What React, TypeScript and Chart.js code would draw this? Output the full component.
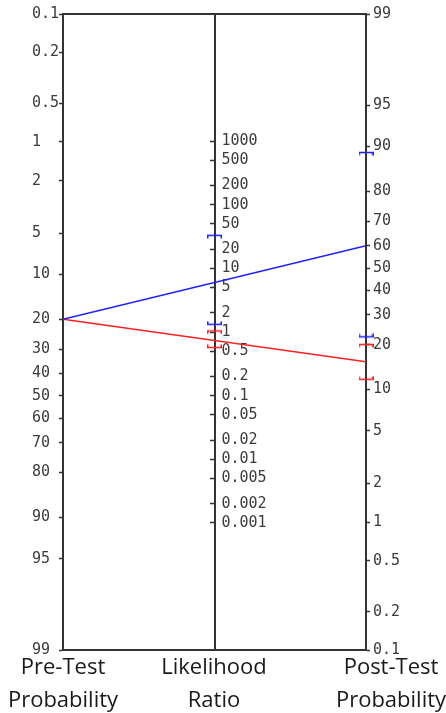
import { useEffect, useRef } from 'react';
import { Chart, registerables, Scale } from 'chart.js';

// ---------- data ----------
const PROB_MIN = 0.1; // % at the ends of the probability axes
const PROB_MAX = 99;

const preTestTicks = [0.1, 0.2, 0.5, 1, 2, 5, 10, 20, 30, 40, 50, 60, 70, 80, 90, 95, 99];
const postTestTicks = [0.1, 0.2, 0.5, 1, 2, 5, 10, 20, 30, 40, 50, 60, 70, 80, 90, 95, 99];
const likelihoodRatioTicks = [1000, 500, 200, 100, 50, 20, 10, 5, 2, 1, 0.5, 0.2, 0.1, 0.05, 0.02, 0.01, 0.005, 0.002, 0.001];

const seriesNames = ['Positive test', 'Negative test'];
const preTestProbability = [20, 20];
const likelihoodRatio = [6, 0.74];
const likelihoodRatioLower = [1.32, 0.57];
const likelihoodRatioUpper = [33, 1.04];
const postTestProbability = [60, 15.5];
const postTestLower = [22.4, 11.8];
const postTestUpper = [89, 20.1];

const axisTitles = [
  ['Pre-Test', 'Probability'],
  ['Likelihood', 'Ratio'],
  ['Post-Test', 'Probability'],
];

// ---------- styles ----------
const AXIS_COLOR = '#333333';
const TICK_TEXT_COLOR = '#3c3c3c';
const TICK_FONT = { family: '"DejaVu Sans Mono", monospace', size: 15 };
const SERIES_COLORS = ['rgb(30,30,255)', 'rgb(255,30,30)'];

// ---------- helpers ----------
const logit = (p: number) => Math.log(p / (100 - p));
const invLogit = (l: number) => 100 / (1 + Math.exp(-l));
const odds = (p: number) => p / (100 - p);
const LR_MAX = odds(PROB_MAX) / odds(PROB_MIN);
const LR_MIN = 1 / LR_MAX;
// value on the pre-test axis that lies at the same height as `post` on the post-test axis
const onPreAxis = (post: number) => invLogit(logit(PROB_MIN) + logit(PROB_MAX) - logit(post));

class LogitScale extends Scale {
  static id = 'logit';
  static defaults = {};
  determineDataLimits() {
    (this as any).min = (this as any).options.min;
    (this as any).max = (this as any).options.max;
  }
  buildTicks() {
    return [];
  }
  configure() {
    super.configure();
    (this as any)._lo = logit((this as any).min);
    (this as any)._hi = logit((this as any).max);
  }
  getPixelForValue(value: number) {
    const s = this as any;
    return s.getPixelForDecimal((logit(value) - s._lo) / (s._hi - s._lo));
  }
  getValueForPixel(pixel: number) {
    const s = this as any;
    return invLogit(s._lo + s.getDecimalForPixel(pixel) * (s._hi - s._lo));
  }
  getLabelForValue(value: number) {
    return String(value);
  }
}

Chart.register(...registerables, LogitScale as any);

function makeBracket(color: string, legsDown: boolean) {
  const w = 15;
  const leg = 3;
  const h = leg * 2 + 1;
  const c = document.createElement('canvas');
  c.width = w;
  c.height = h;
  const ctx = c.getContext('2d')!;
  ctx.strokeStyle = color;
  ctx.lineWidth = 1.5;
  const mid = h / 2;
  const ly = legsDown ? mid + leg : mid - leg;
  ctx.beginPath();
  ctx.moveTo(0.75, ly);
  ctx.lineTo(0.75, mid);
  ctx.lineTo(w - 0.75, mid);
  ctx.lineTo(w - 0.75, ly);
  ctx.stroke();
  return c;
}

const middleAxisLabels = {
  id: 'middleAxisLabels',
  beforeDatasetsDraw(chart: any) {
    const scale = chart.scales.yLR;
    const ctx = chart.ctx;
    const x = chart.scales.x.getPixelForValue(1) + 7;
    ctx.save();
    ctx.font = `${TICK_FONT.size}px ${TICK_FONT.family}`;
    ctx.fillStyle = TICK_TEXT_COLOR;
    ctx.textAlign = 'left';
    ctx.textBaseline = 'middle';
    scale.ticks.forEach((t: any) => {
      ctx.fillText(t.label, x, scale.getPixelForValue(t.value));
    });
    ctx.restore();
  },
};

export default function App() {
  const canvasRef = useRef<HTMLCanvasElement | null>(null);

  useEffect(() => {
    if (!canvasRef.current) return;
    const datasets: any[] = [];
    seriesNames.forEach((name, i) => {
      const color = SERIES_COLORS[i];
      const upper = makeBracket(color, true);
      const lower = makeBracket(color, false);
      datasets.push({
        label: name,
        data: [
          { x: 0, y: preTestProbability[i] },
          { x: 2, y: onPreAxis(postTestProbability[i]) },
        ],
        xAxisID: 'x',
        yAxisID: 'yPre',
        borderColor: color,
        borderWidth: 1.5,
        pointRadius: 0,
        fill: false,
      });
      datasets.push({
        label: name + ' LR CI',
        data: [
          { x: 1, y: likelihoodRatioUpper[i] },
          { x: 1, y: likelihoodRatioLower[i] },
        ],
        xAxisID: 'x',
        yAxisID: 'yLR',
        showLine: false,
        pointStyle: [upper, lower],
        pointRadius: 5,
        clip: false,
      });
      datasets.push({
        label: name + ' post-test CI',
        data: [
          { x: 2, y: postTestUpper[i] },
          { x: 2, y: postTestLower[i] },
        ],
        xAxisID: 'x',
        yAxisID: 'yPost',
        showLine: false,
        pointStyle: [upper, lower],
        pointRadius: 5,
        clip: false,
      });
    });

    const border = { display: true, color: AXIS_COLOR, width: 2 };
    const tickGrid = {
      display: true,
      drawOnChartArea: false,
      drawTicks: true,
      tickLength: 4,
      tickColor: AXIS_COLOR,
      tickWidth: 1.5,
    };

    const chart = new Chart(canvasRef.current, {
      type: 'line',
      data: { datasets },
      plugins: [middleAxisLabels],
      options: {
        animation: false,
        responsive: true,
        maintainAspectRatio: false,
        events: [],
        layout: { padding: { left: 32, right: 0, top: 14, bottom: 63 } },
        plugins: { legend: { display: false }, tooltip: { enabled: false } },
        scales: {
          x: {
            type: 'linear',
            position: 'bottom',
            min: 0,
            max: 2,
            ticks: { display: false },
            grid: { display: false, drawTicks: false },
            border,
          },
          xTop: {
            type: 'linear',
            position: 'top',
            min: 0,
            max: 2,
            ticks: { display: false },
            grid: { display: false, drawTicks: false },
            border,
          },
          yPre: {
            type: 'logit',
            position: 'left',
            reverse: true,
            min: PROB_MIN,
            max: PROB_MAX,
            afterBuildTicks: (s: any) => {
              s.ticks = preTestTicks.map((v) => ({ value: v }));
            },
            afterFit: (s: any) => {
              s.width = 31;
            },
            ticks: { autoSkip: false, crossAlign: 'far', font: TICK_FONT, color: TICK_TEXT_COLOR },
            grid: tickGrid,
            border,
          },
          yLR: {
            type: 'logarithmic',
            position: { x: 1 },
            min: LR_MIN,
            max: LR_MAX,
            afterBuildTicks: (s: any) => {
              s.ticks = likelihoodRatioTicks.map((v) => ({ value: v }));
            },
            ticks: { display: false, autoSkip: false, callback: (v: any) => String(v), font: TICK_FONT },
            grid: tickGrid,
            border,
          },
          yPost: {
            type: 'logit',
            position: 'right',
            min: PROB_MIN,
            max: PROB_MAX,
            afterBuildTicks: (s: any) => {
              s.ticks = postTestTicks.map((v) => ({ value: v }));
            },
            afterFit: (s: any) => {
              s.width = 80;
            },
            ticks: { autoSkip: false, padding: 3, font: TICK_FONT, color: TICK_TEXT_COLOR },
            grid: tickGrid,
            border,
          },
        } as any,
      },
    } as any);
    return () => chart.destroy();
  }, []);

  const centers = [63, 214, 391];
  return (
    <div
      style={{
        position: 'absolute',
        left: 0,
        top: 0,
        width: 446,
        height: 713,
        overflow: 'hidden',
        background: '#ffffff',
      }}
    >
      <canvas ref={canvasRef} />
      {axisTitles.map((lines, i) => (
        <div
          key={i}
          style={{
            position: 'absolute',
            left: centers[i] - 90,
            width: 180,
            top: 649,
            textAlign: 'center',
            fontFamily: '"Open Sans", sans-serif',
            fontSize: 22,
            lineHeight: '33px',
            color: '#1a1a1a',
            whiteSpace: 'nowrap',
          }}
        >
          {lines.map((l, j) => (
            <div key={j}>{l}</div>
          ))}
        </div>
      ))}
    </div>
  );
}
